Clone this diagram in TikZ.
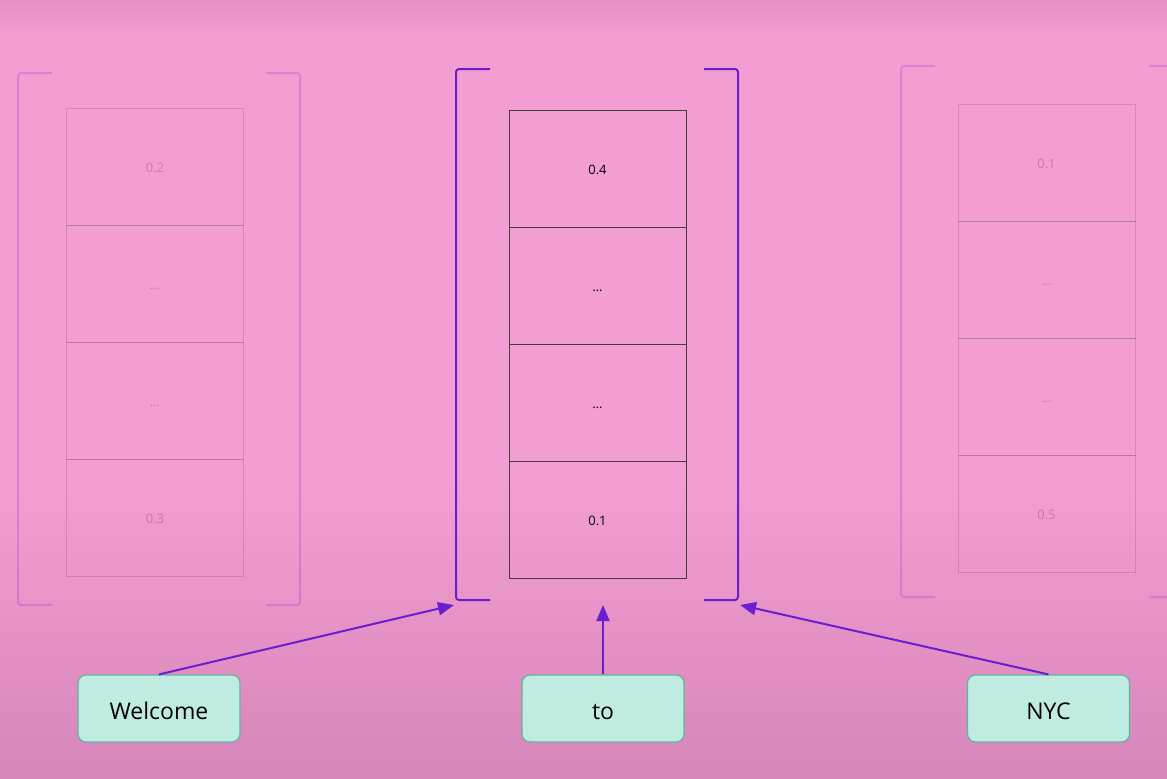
\documentclass[tikz,border=0pt]{standalone}
\usepackage{fontspec}
\setmainfont{Open Sans}
\usetikzlibrary{positioning}
\usetikzlibrary{arrows.meta}

\definecolor{bgpink}{RGB}{243,158,211}
\definecolor{bgtop}{RGB}{230,142,199}
\definecolor{bgbottom}{RGB}{214,134,186}
\definecolor{brk}{RGB}{108,30,206}
\definecolor{tokfill}{RGB}{192,235,224}
\definecolor{tokline}{RGB}{95,180,160}

\tikzset{
	cell/.style={draw=black!75,line width=0.4pt,minimum width=88.5pt,minimum height=58.5pt,inner sep=0pt,outer sep=0pt,text height=1.5ex,text depth=0.3ex,font=\fontsize{6.5}{7}\selectfont},
	dim/.style={opacity=0.2},
	keep/.style={},
	brkline/.style={draw=brk,line width=1pt,rounded corners=1.5pt},
	token/.style={draw=tokline,fill=tokfill,line width=0.6pt,rounded corners=4pt,minimum width=81pt,minimum height=33.5pt,text height=2ex,text depth=0pt,font=\fontsize{11.5}{13}\selectfont},
	link/.style={draw=brk,line width=1pt,-{Triangle[length=8pt,width=6.5pt]}}
}

\begin{document}
\begin{tikzpicture}[x=0.5pt,y=-0.5pt]
\useasboundingbox (0,0) rectangle (1167,778);
\clip (0,0) rectangle (1167,778);

%background
\fill[bgpink] (0,0) rectangle (1167,778);
\shade[top color=bgtop,bottom color=bgpink] (0,0) rectangle (1167,40);
\shade[top color=bgpink,bottom color=bgbottom] (0,480) rectangle (1167,778);

%vectors
\foreach \vec/\cx/\top/\bl/\br/\bt/\bb/\look/\vals in {
	w/155/108/18/300/73/605/dim/{0.2,\dots,\dots,0.3},
	t/597.5/110/456/738/69/600/keep/{0.4,\dots,\dots,0.1},
	n/1046.5/104/901/1183/66/597/dim/{0.1,\dots,\dots,0.5}}{
	\begin{scope}[\look]
	\foreach \val [count=\i] in \vals {
		\ifnum\i=1
			\node[cell] (\vec\i) at (\cx,\top+58.5) {\val};
		\else
			\pgfmathtruncatemacro{\prev}{\i-1}
			\node[cell,below=0pt of \vec\prev] (\vec\i) {\val};
		\fi
	}
	%brackets
	\draw[brkline] (\bl+34,\bt) -- (\bl,\bt) -- (\bl,\bb) -- (\bl+34,\bb);
	\draw[brkline] (\br-34,\bt) -- (\br,\bt) -- (\br,\bb) -- (\br-34,\bb);
	\end{scope}
}

%tokens
\node[token] (welcome) at (159,708.5) {Welcome};
\node[token] (to) at (603,708.5) {to};
\node[token] (nyc) at (1048.5,708.5) {NYC};

%arrow ends
\coordinate (tl) at (454,605);
\coordinate (tc) at (603,605);
\coordinate (tr) at (740,605);

\draw[link] (welcome.north) -- (tl);
\draw[link] (to.north) -- (tc);
\draw[link] (nyc.north) -- (tr);

\end{tikzpicture}
\end{document}
